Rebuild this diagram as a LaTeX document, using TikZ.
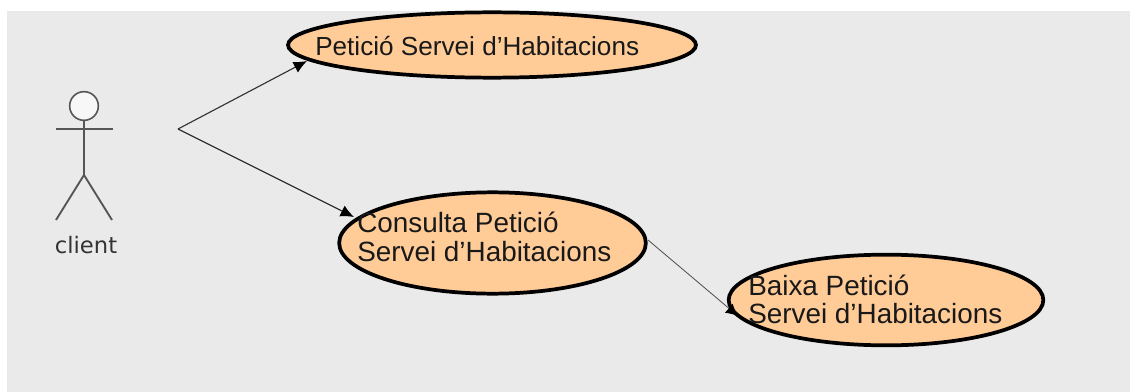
\documentclass[tikz,border=0pt]{standalone}
\usepackage{fontspec}
\setmainfont{Liberation Sans}
\usetikzlibrary{shapes.geometric,arrows.meta}
\definecolor{bggrey}{HTML}{EAEAEA}
\definecolor{peach}{HTML}{FFCB97}
\definecolor{stick}{HTML}{555555}
\tikzset{
  usecase/.style={ellipse,draw=black,line width=2.8pt,fill=peach,inner sep=0pt},
  uclabel/.style={anchor=west,align=left,text=black!90,inner sep=0pt},
  flow/.style={draw=black!80,line width=.85pt,-{Latex[length=10pt,width=9pt,color=black]}},
  thin flow/.style={draw=black!70,line width=.6pt,-{Latex[length=9pt,width=9pt,color=black]}},
  limb/.style={draw=stick,line width=1.4pt}
}
\begin{document}
\begin{tikzpicture}[x=0.75pt,y=-0.75pt]
\useasboundingbox (0,0) rectangle (1130,392);
\fill[white] (0,0) rectangle (1130,392);
\fill[bggrey] (7,11) rectangle (1130,392);
% use cases
\node[usecase,minimum width=306pt,minimum height=49pt] (e1) at (492,45) {};
\node[usecase,minimum width=230pt,minimum height=76pt] (e2) at (492.5,243) {};
\node[usecase,minimum width=236pt,minimum height=68pt] (e3) at (886,300) {};
\node[uclabel,font=\fontsize{19.6}{22}\selectfont] (t1) at (315,46) {Petició Servei d’Habitacions};
\node[uclabel,font=\fontsize{20.9}{22}\selectfont] (t2) at (357,237) {Consulta Petició\\Servei d’Habitacions};
\node[uclabel,font=\fontsize{20.9}{21}\selectfont] (t3) at (748,299) {Baixa Petició\\Servei d’Habitacions};
% actor
\node[circle,draw=stick,line width=1.2pt,fill=bggrey!40!white,minimum size=21.5pt,inner sep=0pt] (head) at (84,106) {};
\coordinate (hip) at (84,175);
\coordinate (armL) at (56,129);
\coordinate (armR) at (113,129);
\coordinate (legL) at (56,220);
\coordinate (legR) at (112,220);
\draw[limb] (head.south) -- (hip);
\draw[limb] (armL) -- (armR);
\draw[limb] (legL) -- (hip) -- (legR);
\node[font=\fontsize{17}{20}\selectfont,text=black!80,inner sep=0pt] (client) at (86,245) {\fontspec{DejaVu Sans}client};
% connectors
\coordinate (fork) at (178,129);
\coordinate (a1) at (307,61);
\coordinate (a2) at (354,217);
\coordinate (b1) at (648,240);
\coordinate (b2) at (738,316);
\draw[flow] (fork) -- (a1);
\draw[flow] (fork) -- (a2);
\draw[thin flow] (b1) -- (b2);
\end{tikzpicture}
\end{document}
